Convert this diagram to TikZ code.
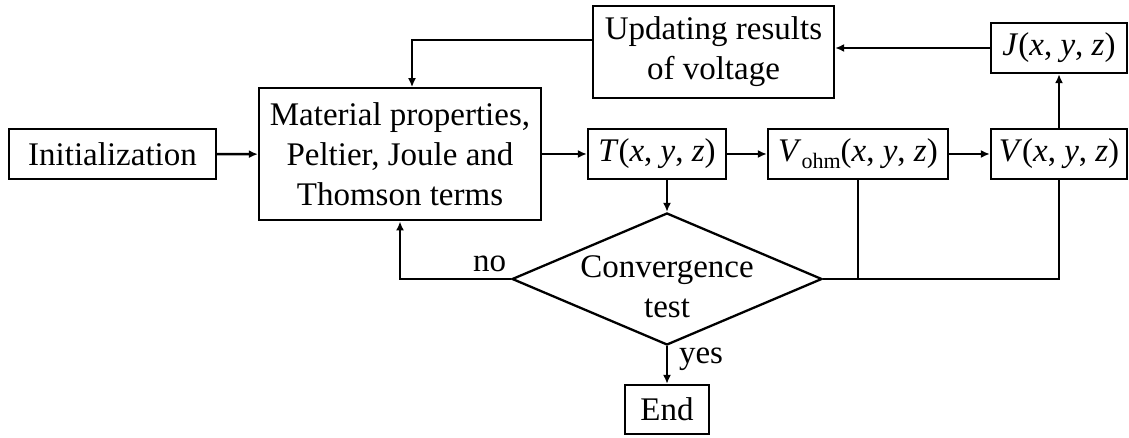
\documentclass[tikz,border=0pt]{standalone}
\usepackage{fontspec}
\setmainfont{Liberation Serif}
\usetikzlibrary{shapes.geometric,arrows.meta}
\begin{document}
\begin{tikzpicture}[x=1pt,y=-1pt,
  txt/.style={font=\fontsize{33}{40}\selectfont, align=center},
  box/.style={txt, draw, line width=2.3pt, inner sep=0pt},
  conn/.style={line width=2.3pt},
  arr/.style={conn, -{Latex[length=9pt,width=8pt]}},
  decision/.style={draw, diamond, line width=2.3pt, inner sep=0pt}
]
\useasboundingbox (0,0) rectangle (1129,438);
\node[box, minimum width=207pt, minimum height=50pt] (init) at (112.5,154) {Initialization};
\node[box, minimum width=282pt, minimum height=132pt] (mat) at (400,154.3) {Material properties,\\Peltier, Joule and\\Thomson terms};
\node[box, minimum width=241pt, minimum height=92pt] (upd) at (713.5,52) {Updating results\\of voltage};
\node[box, minimum width=136pt, minimum height=50pt] (J) at (1059,48) {\textit{J}(\textit{x}, \textit{y}, \textit{z})};
\node[box, minimum width=138pt, minimum height=50pt] (T) at (657,154) {\textit{T}(\textit{x}, \textit{y}, \textit{z})};
\node[box, minimum width=180pt, minimum height=50pt] (Vohm) at (858,154) {\textit{V}\raisebox{-7pt}{\fontsize{22}{22}\selectfont ohm}(\textit{x}, \textit{y}, \textit{z})};
\node[box, minimum width=136pt, minimum height=50pt] (V) at (1059,154) {\textit{V}(\textit{x}, \textit{y}, \textit{z})};
\node[decision, minimum width=310pt, minimum height=132pt,
  label={[txt, yshift=-8pt]center:Convergence\\test}] (conv) at (667,279) {};
\node[box, minimum width=84pt, minimum height=49pt] (end) at (667,409.5) {End};
\node[txt] (no) at (489.5,263.5) {no};
\node[txt] (yes) at (701,359) {yes};

\draw[arr] (init) -- (mat);
\draw[arr] (mat.east |- T.west) -- (T.west);
\draw[arr] (T) -- (Vohm);
\draw[arr] (Vohm) -- (V);
\draw[arr] (V) -- (J);
\draw[arr] (J.west) -- (J.west -| upd.east);
\coordinate (fb) at (412,40);
\draw[arr] (upd.west |- fb) -- (fb) -- (fb |- mat.north);
\draw[arr] (conv.north |- T.south) -- (conv.north);
\draw[arr] (conv.south) -- (end.north);
\draw[arr] (conv.west) -- (mat.south |- conv.west) -- (mat.south);
\draw[conn] (Vohm.south) -- (Vohm.south |- conv.east);
\draw[conn] (conv.east) -- (V.south |- conv.east) -- (V.south);
\end{tikzpicture}
\end{document}
